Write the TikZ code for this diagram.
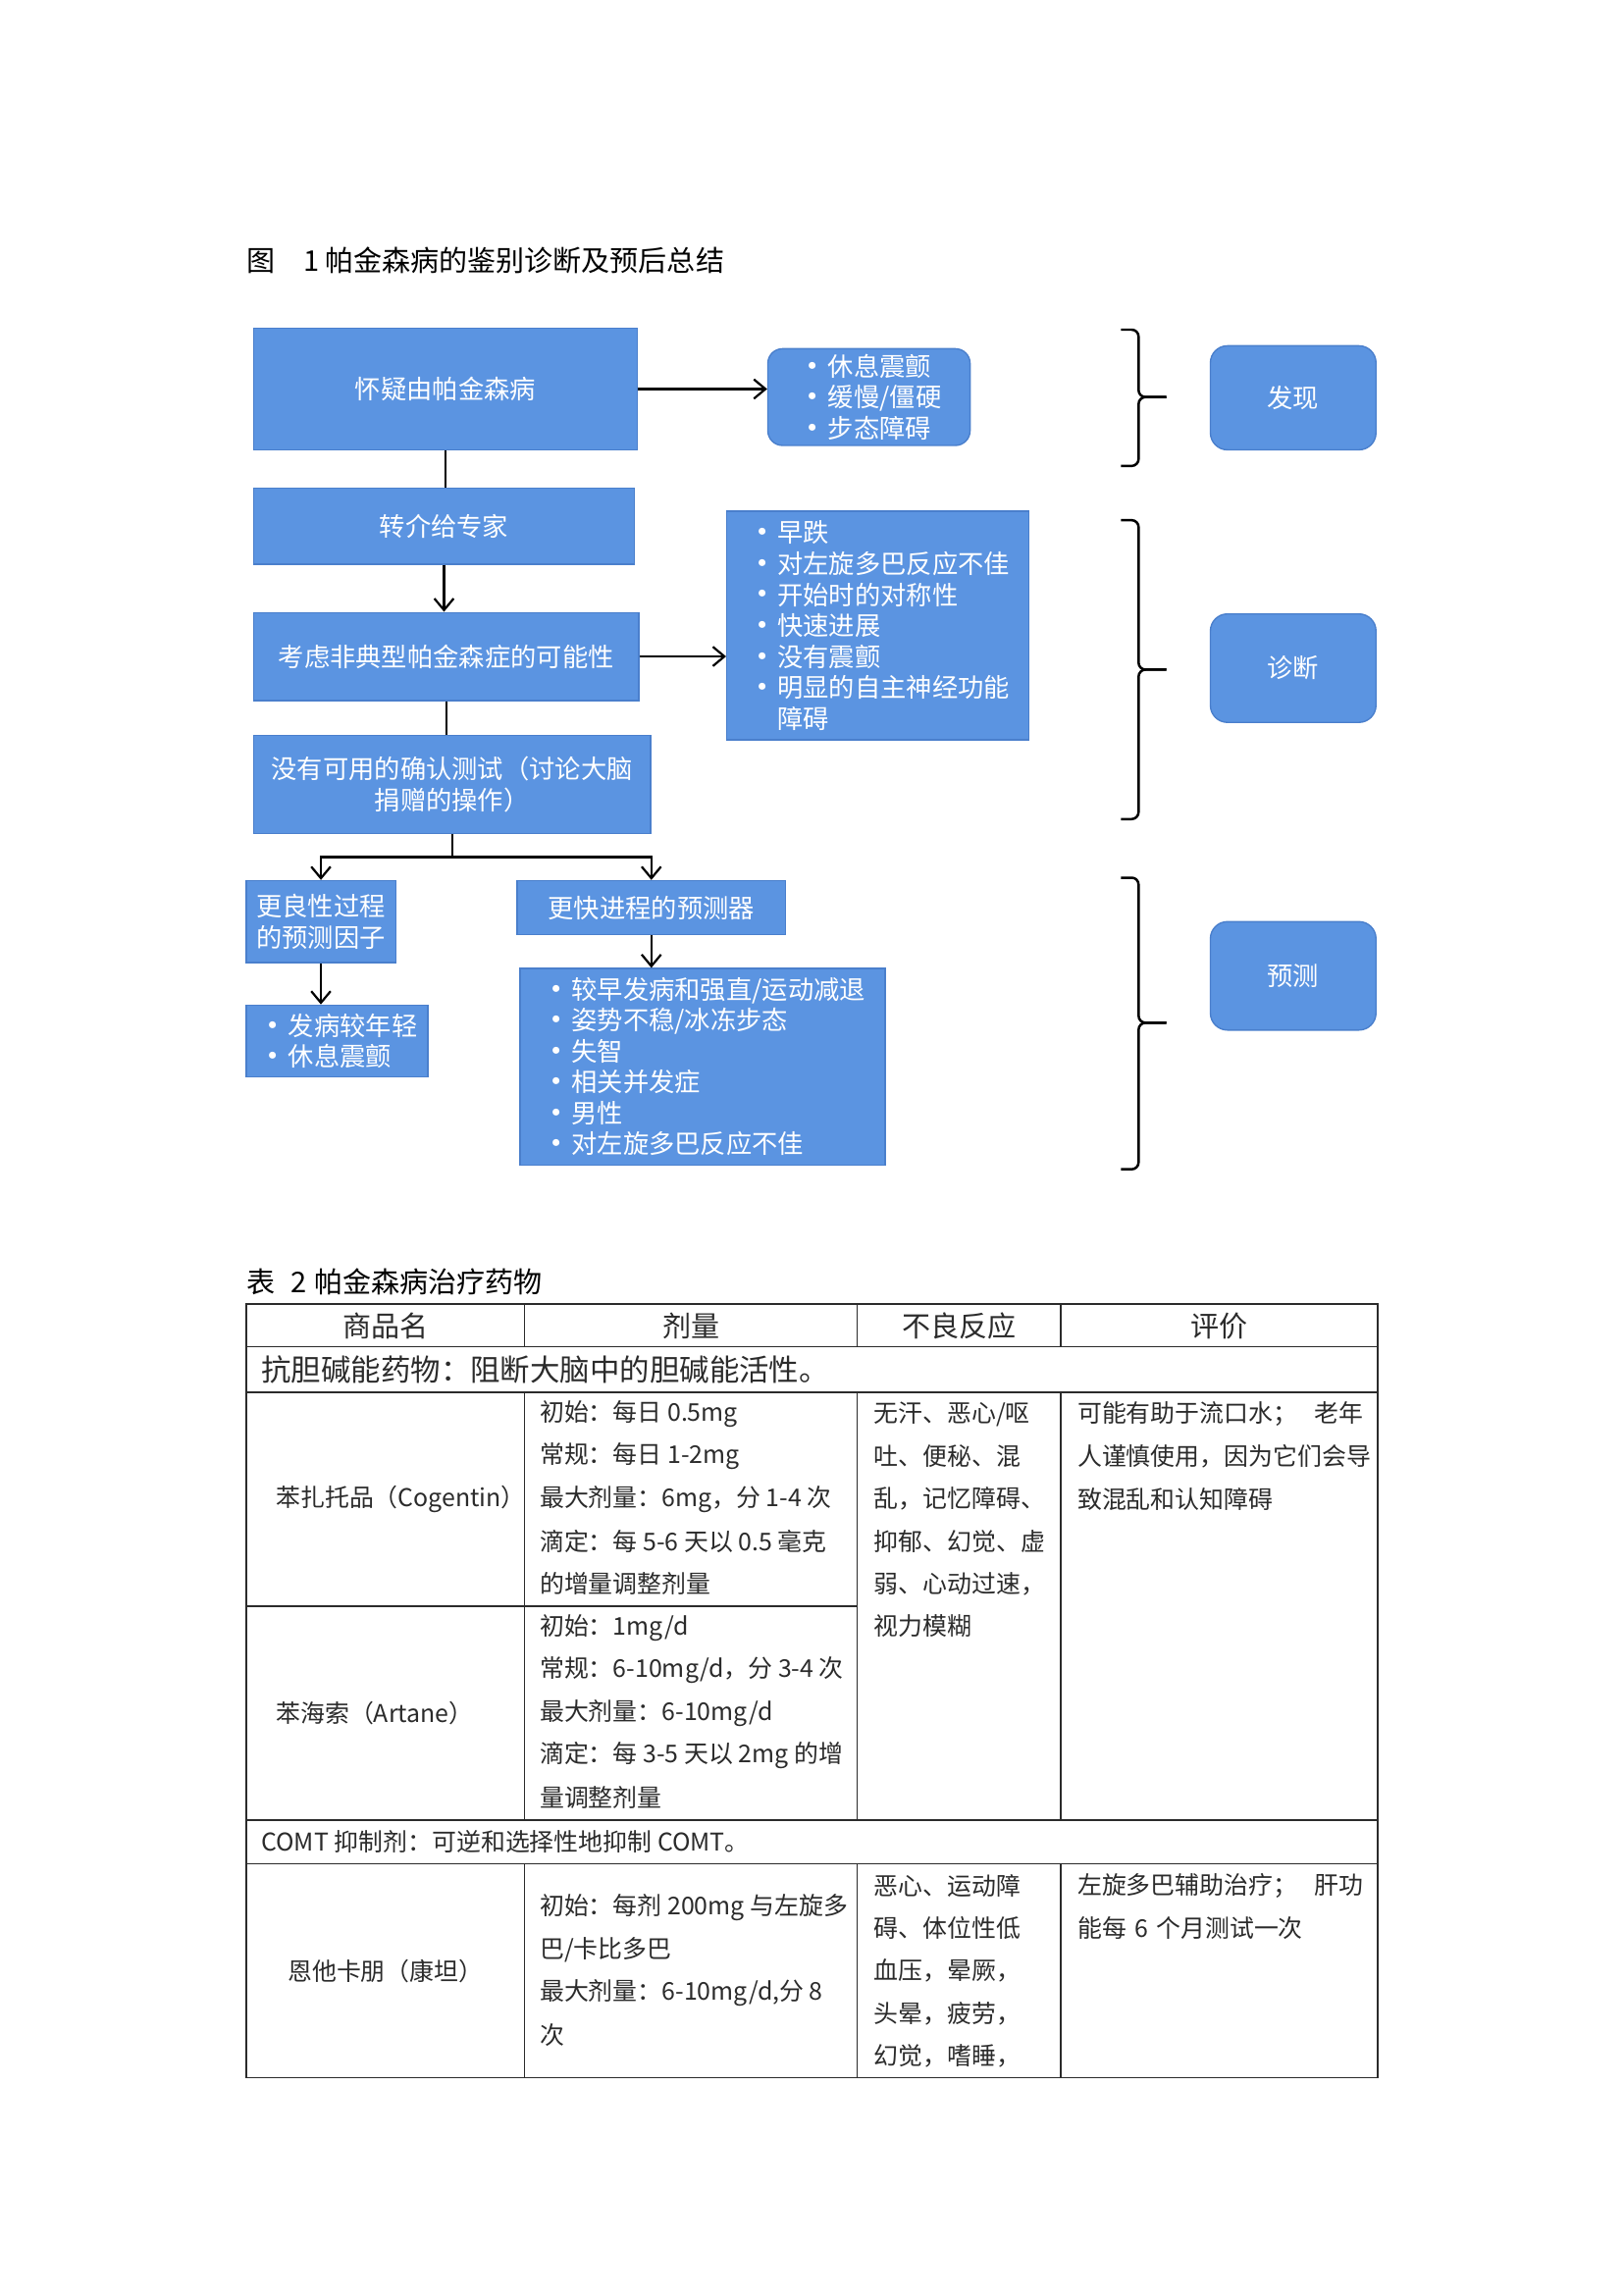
\documentclass[tikz,border=0pt]{standalone}
\usepackage{fontspec}
\setmainfont{Noto Sans CJK SC}
\usepackage{tikz}
\usetikzlibrary{arrows.meta, positioning}
\tikzset{>={Straight Barb[length=1.5mm,width=2.5mm]}}
\usepackage{xcolor}
\definecolor{boxblue}{HTML}{5B94E1}
\definecolor{boxline}{HTML}{4A7FCC}
\definecolor{tabtext}{HTML}{2B2B2B}
\newcommand{\pxu}{0.18965mm}
\newlength{\bulw}
\setlength{\bulw}{4.1mm}
\newcommand{\bul}[1]{\makebox[\bulw][l]{\raisebox{-0.7pt}{\fontsize{12}{11.4}\selectfont •}}#1}
\tikzset{
  boxdim/.style 2 args={minimum width=#1*\pxu, minimum height=#2*\pxu},
  bluebox/.style={draw=boxline, line width=0.5pt, fill=boxblue, text=white, inner sep=0pt, align=center, font=\fontsize{9.5}{11.4}\selectfont},
  listbox/.style={bluebox, align=left},
  tagbox/.style={bluebox, rounded corners=2.2mm},
  link/.style={line width=0.8pt},
  brace/.style={line width=0.9pt, rounded corners=0.9mm},
  tline/.style={line width=0.6pt, tabtext},
  cell/.style={anchor=west, inner sep=0pt, text=tabtext, font=\fontsize{9}{10}\selectfont},
  head/.style={inner sep=0pt, text=tabtext, font=\fontsize{10.5}{12}\selectfont},
}

\begin{document}
\begin{tikzpicture}[x=0.18965mm, y=-0.18965mm]
  \useasboundingbox (0,0) rectangle (1107.6,1566.3);
  % figure title
  \node[head, anchor=west, text=black] (figtitle) at (168,178) {图\hspace{3.7mm}1\hspace{0.7mm}帕金森病的鉴别诊断及预后总结};
  % flow chart boxes
  \node[bluebox, boxdim={262}{83}] (suspect) at (304,265.5) {怀疑由帕金森病};
  \node[tagbox, align=left, boxdim={138}{66}, rounded corners=1.9mm] (signs) at (593,271) {\bul{休息震颤}\\\bul{缓慢/僵硬}\\\bul{步态障碍}};
  \node[bluebox, boxdim={260}{52}] (refer) at (303,359) {转介给专家};
  \node[bluebox, boxdim={263}{60}] (atypical) at (304.5,448) {考虑非典型帕金森症的可能性};
  \node[listbox, boxdim={206}{156}] (redflags) at (599,427) {\bul{早跌}\\\bul{对左旋多巴反应不佳}\\\bul{开始时的对称性}\\\bul{快速进展}\\\bul{没有震颤}\\\bul{明显的自主神经功能}\\\hspace*{\bulw}障碍};
  \node[bluebox, boxdim={271}{67}] (notest) at (308.5,535.5) {没有可用的确认测试（讨论大脑\\捐赠的操作）};
  \node[bluebox, boxdim={102}{56}] (benign) at (219,629) {更良性过程\\的预测因子};
  \node[bluebox, boxdim={183}{37}] (rapid) at (444.5,619.5) {更快进程的预测器};
  \node[listbox, boxdim={124}{49}] (benignlist) at (230,710.5) {\bul{发病较年轻}\\\bul{休息震颤}};
  \node[listbox, boxdim={249}{134}] (rapidlist) at (479.5,728) {\bul{较早发病和强直/运动减退}\\\bul{姿势不稳/冰冻步态}\\\bul{失智}\\\bul{相关并发症}\\\bul{男性}\\\bul{对左旋多巴反应不佳}};
  % stage labels
  \node[tagbox, boxdim={113}{71}] (find) at (882.5,271.5) {发现};
  \node[tagbox, boxdim={113}{74}] (diag) at (882.5,456) {诊断};
  \node[tagbox, boxdim={113}{74}] (prog) at (882.5,666) {预测};
  % connectors
  \draw[link, ->] (suspect.east) -- (suspect.east -| signs.west);
  \draw[link] (suspect.south) -- (suspect.south |- refer.north);
  \draw[link, ->] (refer.south) -- (refer.south |- atypical.north);
  \draw[link, ->] (atypical.east) -- (atypical.east -| redflags.west);
  \draw[link] (atypical.south) -- (atypical.south |- notest.north);
  \coordinate (fork) at (308.5,585);
  \draw[link] (notest.south) -- (fork);
  \draw[link, ->] (fork) -| (benign.north);
  \draw[link, ->] (fork) -| (rapid.north);
  \draw[link, ->] (benign.south) -- (benign.south |- benignlist.north);
  \draw[link, ->] (rapid.south) -- (rapid.south |- rapidlist.north);
  % braces
  \foreach \top/\mid/\bot in {225/271/318, 355/457/559, 599/698/798} {
    \draw[brace] (765,\top) -- (777,\top) -- (777,\mid) -- (796,\mid);
    \draw[brace] (765,\bot) -- (777,\bot) -- (777,\mid) -- (796,\mid);
  }
  % table caption
  \node[head, anchor=west, text=black] (tabtitle) at (168,875) {表\hspace{2mm}2\hspace{1mm}帕金森病治疗药物};
  % table rules
  \draw[tline] (168,890) rectangle (940,1418);
  \foreach \y in {919, 950, 1242, 1272}
    \draw[tline] (168,\y) -- (940,\y);
  \draw[tline] (168,1096) -- (585,1096);
  \foreach \x in {358, 585, 724} {
    \draw[tline] (\x,890) -- (\x,919);
    \draw[tline] (\x,950) -- (\x,1242);
    \draw[tline] (\x,1272) -- (\x,1418);
  }
  % header
  \foreach \x/\t [count=\i] in {263/商品名, 471.5/剂量, 654.5/不良反应, 832/评价}
    \node[head] (head\i) at (\x,905) {\t};
  \node[head, anchor=west, font=\fontsize{11}{12}\selectfont] (antichol) at (178,935) {抗胆碱能药物：阻断大脑中的胆碱能活性。};
  \node[cell] (comt) at (178,1257) {COMT 抑制剂：可逆和选择性地抑制 COMT。};
  % drug names
  \node[cell] (drug1) at (188,1023) {苯扎托品（Cogentin）};
  \node[cell] (drug2) at (188,1169) {苯海索（Artane）};
  \node[cell] (drug3) at (196,1345) {恩他卡朋（康坦）};
  % dose column
  \foreach \t [count=\i from 0] in {初始：每日 0.5mg, 常规：每日 1-2mg, 最大剂量：6mg，分 1-4 次, 滴定：每 5-6 天以 0.5 毫克, 的增量调整剂量}
    \node[cell] (doseA\i) at (368,965+29*\i) {\t};
  \foreach \t [count=\i from 0] in {初始：1mg/d, 常规：6-10mg/d，分 3-4 次, 最大剂量：6-10mg/d, 滴定：每 3-5 天以 2mg 的增, 量调整剂量}
    \node[cell] (doseB\i) at (368,1111+29*\i) {\t};
  \foreach \t [count=\i from 0] in {初始：每剂 200mg 与左旋多, 巴/卡比多巴, {最大剂量：6-10mg/d,分 8}, 次}
    \node[cell] (doseC\i) at (368,1302+29*\i) {\t};
  % adverse effects
  \foreach \t [count=\i from 0] in {无汗、恶心/呕, 吐、便秘、混, 乱，记忆障碍、, 抑郁、幻觉、虚, 弱、心动过速，, 视力模糊}
    \node[cell] (sideA\i) at (596,965+29*\i) {\t};
  \foreach \t [count=\i from 0] in {恶心、运动障, 碍、体位性低, 血压，晕厥，, 头晕，疲劳，, 幻觉，嗜睡，}
    \node[cell] (sideC\i) at (596,1287+29*\i) {\t};
  % comments
  \foreach \t [count=\i from 0] in {可能有助于流口水；\hfill 老年, 人谨慎使用，因为它们会导, 致混乱和认知障碍}
    \node[cell, text width=195*\pxu, align=left] (noteA\i) at (735,965+29*\i) {\t};
  \foreach \t [count=\i from 0] in {左旋多巴辅助治疗；\hfill 肝功, 能每 6 个月测试一次}
    \node[cell, text width=195*\pxu, align=left] (noteC\i) at (735,1287+29*\i) {\t};
\end{tikzpicture}
\end{document}
